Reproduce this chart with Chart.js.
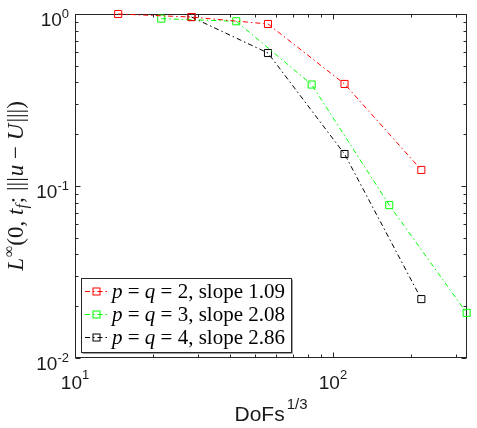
<!DOCTYPE html>
<html><head><meta charset="utf-8">
<script src="https://cdn.jsdelivr.net/npm/chart.js@4"></script>
<style>html,body{margin:0;padding:0;background:#fff}#wrap{width:477px;height:428px}</style>
</head><body><div id="wrap"><canvas id="c" width="477" height="428"></canvas></div>
<script>
// ---- data ----
const redX   = [14.7, 28.3, 56.0, 110.9, 220.2];
const redY   = [1.0, 0.96, 0.875, 0.392, 0.124];
const greenX = [21.6, 42.2, 82.7, 165.4, 330];
const greenY = [0.94, 0.907, 0.389, 0.0774, 0.0183];
const blackX = [28.3, 56.0, 110.9, 220.2];
const blackY = [0.96, 0.593, 0.1535, 0.022];
const orders = ['2', '3', '4'];
const slopes = ['1.09', '2.08', '2.86'];
const yTickVals = [1, 0.1, 0.01];
const yTickExp  = ['0', '-1', '-2'];
const xTickVals = [10, 100];
const xTickExp  = ['1', '2'];
const xMinor = [20, 30, 40, 50, 60, 70, 80, 90, 200, 300];
const yMinor = [0.02, 0.03, 0.04, 0.05, 0.06, 0.07, 0.08, 0.09, 0.2, 0.3, 0.4, 0.5, 0.6, 0.7, 0.8, 0.9];

const SANS = '"Liberation Sans", Arial, Helvetica, sans-serif';
const SERIF = '"Liberation Serif", "Times New Roman", serif';
const AX = '#262626';
const DASH = [5, 3, 1.5, 3];

function pts(xs, ys) { return xs.map((x, i) => ({x: x, y: ys[i]})); }
function ds(label, xs, ys, color) {
  return {label: label, data: pts(xs, ys), borderColor: color, borderWidth: 1,
    borderDash: DASH, pointStyle: 'rect', pointRadius: 5, pointHoverRadius: 5,
    pointBorderColor: color, pointBorderWidth: 1, pointBackgroundColor: 'rgba(0,0,0,0)',
    fill: false, tension: 0, clip: false, showLine: true};
}
const colors = ['#ff0000', '#00ff00', '#000000'];
const datasets = [
  ds('p = q = ' + orders[0] + ', slope ' + slopes[0], redX, redY, colors[0]),
  ds('p = q = ' + orders[1] + ', slope ' + slopes[1], greenX, greenY, colors[1]),
  ds('p = q = ' + orders[2] + ', slope ' + slopes[2], blackX, blackY, colors[2])
];

function measureRich(ctx, segs) {
  let w = 0;
  for (const s of segs) { ctx.font = s.f; w += ctx.measureText(s.t).width + (s.gap || 0); }
  return w;
}
function drawRich(ctx, segs, x, y, align) {
  const w = measureRich(ctx, segs);
  let cx = align === 'right' ? x - w : align === 'center' ? x - w / 2 : x;
  ctx.textBaseline = 'alphabetic'; ctx.textAlign = 'left';
  for (const s of segs) {
    ctx.font = s.f;
    ctx.fillText(s.t, cx, y + (s.dy || 0));
    cx += ctx.measureText(s.t).width + (s.gap || 0);
  }
}

const boxPlugin = {
  id: 'box',
  beforeDatasetsDraw(chart) {
    const ctx = chart.ctx, a = chart.chartArea;
    const xs = chart.scales.x, ys = chart.scales.y;
    ctx.save();
    ctx.strokeStyle = AX; ctx.lineWidth = 1;
    const L = Math.round(a.left) + 0.5, R = Math.round(a.right) - 0.5;
    const T = Math.round(a.top) + 0.5, B = Math.round(a.bottom) - 0.5;
    ctx.strokeRect(L, T, R - L, B - T);
    ctx.beginPath();
    const tick = (v, len) => {
      const px = Math.round(xs.getPixelForValue(v)) + 0.5;
      ctx.moveTo(px, B); ctx.lineTo(px, B - len);
      ctx.moveTo(px, T); ctx.lineTo(px, T + len);
    };
    const ytick = (v, len) => {
      const py = Math.round(ys.getPixelForValue(v)) + 0.5;
      ctx.moveTo(L, py); ctx.lineTo(L + len, py);
      ctx.moveTo(R, py); ctx.lineTo(R - len, py);
    };
    xTickVals.forEach(v => tick(v, 5));
    xMinor.forEach(v => tick(v, 3));
    yTickVals.forEach(v => ytick(v, 5));
    yMinor.forEach(v => ytick(v, 3));
    ctx.stroke();
    ctx.restore();
  },
  afterDraw(chart) {
    const ctx = chart.ctx, a = chart.chartArea;
    const xs = chart.scales.x, ys = chart.scales.y;
    ctx.save();
    ctx.fillStyle = '#1a1a1a';
    // y tick labels
    yTickVals.forEach((v, i) => {
      const py = ys.getPixelForValue(v);
      drawRich(ctx, [
        {t: '10', f: '19px ' + SANS},
        {t: yTickExp[i], f: '13px ' + SANS, dy: -8}
      ], 69, py + 12, 'right');
    });
    // x tick labels
    xTickVals.forEach((v, i) => {
      const px = xs.getPixelForValue(v);
      drawRich(ctx, [
        {t: '10', f: '19px ' + SANS},
        {t: xTickExp[i], f: '13px ' + SANS, dy: -10}
      ], px, 389, 'center');
    });
    // x title
    drawRich(ctx, [
      {t: 'DoFs', f: '21px ' + SANS, gap: 2},
      {t: '1/3', f: '15px ' + SANS, dy: -12}
    ], (a.left + a.right) / 2, 421, 'center');
    // y title (rotated)
    ctx.save();
    ctx.translate(23, (a.top + a.bottom) / 2);
    ctx.rotate(-Math.PI / 2);
    const it = 'italic 23px ' + SERIF, rm = '23px ' + SERIF, sm = '16px ' + SERIF, smi = 'italic 16px ' + SERIF;
    drawRich(ctx, [
      {t: 'L', f: it, gap: 1},
      {t: '\u221E', f: sm, dy: -9},
      {t: '(0, ', f: rm},
      {t: 't', f: it},
      {t: 'f', f: smi, dy: 4, gap: 1},
      {t: '; ', f: rm},
      {t: '|||', f: rm, gap: 1},
      {t: 'u', f: it},
      {t: ' \u2212 ', f: rm},
      {t: 'U', f: it, gap: 1},
      {t: '|||', f: rm},
      {t: ')', f: rm}
    ], 0, 0, 'center');
    ctx.restore();
    // legend
    const bx = 81, by = 278, bw = 210, bh = 74;
    ctx.fillStyle = '#ffffff';
    ctx.fillRect(bx, by, bw, bh);
    ctx.strokeStyle = '#a0a0a0'; ctx.lineWidth = 1;
    ctx.beginPath();
    ctx.moveTo(bx + 1.5, by + bh + 1.5); ctx.lineTo(bx + bw + 1.5, by + bh + 1.5); ctx.lineTo(bx + bw + 1.5, by + 1.5);
    ctx.stroke();
    ctx.strokeStyle = AX;
    ctx.strokeRect(bx + 0.5, by + 0.5, bw, bh);
    const rows = [291.5, 314.5, 337.5];
    chart.data.datasets.forEach((d, i) => {
      const yy = rows[i];
      ctx.strokeStyle = d.borderColor; ctx.lineWidth = 1;
      ctx.setLineDash(DASH);
      ctx.beginPath(); ctx.moveTo(85, yy); ctx.lineTo(110, yy); ctx.stroke();
      ctx.setLineDash([]);
      ctx.strokeRect(93, yy - 3.5, 7, 7);
      ctx.fillStyle = '#000';
      const it2 = 'italic 21px ' + SERIF, rm2 = '21px ' + SERIF;
      drawRich(ctx, [
        {t: 'p', f: it2},
        {t: ' = ', f: rm2},
        {t: 'q', f: it2},
        {t: ' = ', f: rm2},
        {t: orders[i] + ', slope ' + slopes[i], f: rm2}
      ], 112, yy + 6, 'left');
    });
    ctx.restore();
  }
};

new Chart(document.getElementById('c'), {
  type: 'line',
  data: {datasets: datasets},
  options: {
    responsive: false, animation: false, devicePixelRatio: 1,
    layout: {padding: {top: 14, right: 10, left: 0, bottom: 0}},
    plugins: {legend: {display: false}, tooltip: {enabled: false}},
    scales: {
      x: {type: 'logarithmic', min: 10, max: 331,
        ticks: {display: false}, grid: {display: false, drawTicks: false}, border: {display: false},
        afterFit: s => { s.height = 70; }},
      y: {type: 'logarithmic', min: 0.01, max: 1,
        ticks: {display: false}, grid: {display: false, drawTicks: false}, border: {display: false},
        afterFit: s => { s.width = 75; }}
    }
  },
  plugins: [boxPlugin]
});
</script>
</body></html>
